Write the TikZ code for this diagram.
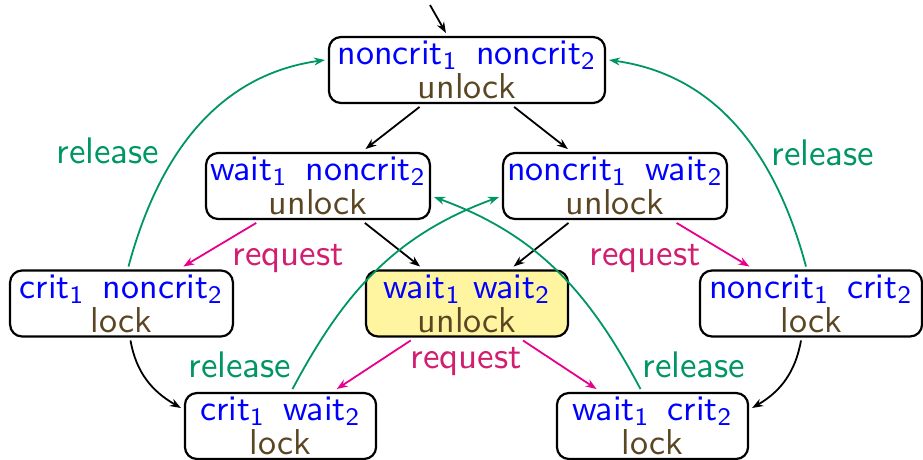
\documentclass[tikz,border=0pt]{standalone}
\usetikzlibrary{arrows.meta}
\definecolor{cblue}{RGB}{0,0,255}
\definecolor{cbrown}{RGB}{90,70,35}
\definecolor{cgreen}{RGB}{0,150,100}
\definecolor{cpink}{RGB}{230,0,140}
\definecolor{cpinktext}{RGB}{210,30,110}
\definecolor{cyellow}{RGB}{255,245,160}
\newcommand{\sub}[1]{\textsubscript{#1}}
\newcommand{\gapw}{\hspace{0.5em}}
\newcommand{\st}[2]{\textcolor{cblue}{#1}\\\textcolor{cbrown}{#2}}
\begin{document}
\begin{tikzpicture}[x=1pt,y=1pt,
  stbox/.style={draw=black, line width=2.2pt, rounded corners=12pt, inner sep=0.5pt,
    scale=3.6, align=center, font=\fontsize{10}{9.44}\selectfont\sffamily, minimum height=18.33pt},
  tr/.style={line width=1.8pt, -{Stealth[length=11pt,width=8pt]}},
  req/.style={tr, cpink},
  rel/.style={tr, cgreen},
  lab/.style={scale=3.7, font=\fontsize{10}{12}\selectfont\sffamily, inner sep=0pt},
]
\useasboundingbox (0,0) rectangle (923,460);

\node[stbox, minimum width=76.7pt] (top) at (467,390) {\st{noncrit\sub{1}\gapw noncrit\sub{2}}{unlock}};
\node[stbox, minimum width=62.2pt] (wn) at (318,274) {\st{wait\sub{1}\gapw noncrit\sub{2}}{unlock}};
\node[stbox, minimum width=62.2pt] (nw) at (615,274) {\st{noncrit\sub{1}\gapw wait\sub{2}}{unlock}};
\node[stbox, minimum width=61.9pt] (cn) at (121.5,156.5) {\st{crit\sub{1}\gapw noncrit\sub{2}}{lock}};
\node[stbox, minimum width=56.1pt, fill=cyellow] (ww) at (467,156.5) {\st{wait\sub{1} wait\sub{2}}{unlock}};
\node[stbox, minimum width=61.7pt] (nc) at (811,156.5) {\st{noncrit\sub{1}\gapw crit\sub{2}}{lock}};
\node[stbox, minimum width=53.1pt] (cw) at (280.5,34) {\st{crit\sub{1}\gapw wait\sub{2}}{lock}};
\node[stbox, minimum width=53.1pt] (wc) at (652.5,34) {\st{wait\sub{1}\gapw crit\sub{2}}{lock}};

\coordinate (init) at (430,455);
\draw[tr] (init) -- (top);
\draw[tr] (top) -- (wn);
\draw[tr] (top) -- (nw);
\draw[tr] (wn) -- (ww);
\draw[tr] (nw) -- (ww);
\draw[tr] ([xshift=9pt]cn.south) to[out=-80,in=150] ([yshift=18pt]cw.west);
\draw[tr] ([xshift=-10pt]nc.south) to[out=-100,in=30] ([yshift=18pt]wc.east);

\draw[req] (wn) -- (cn);
\draw[req] (nw) -- (nc);
\draw[req] (ww) -- (cw);
\draw[req] (ww) -- (wc);

\draw[rel] ([xshift=7pt]cn.north) to[out=75,in=188] ([yshift=10pt]top.west);
\draw[rel] ([xshift=-5pt]nc.north) to[out=105,in=-8] ([yshift=10pt]top.east);
\draw[rel] ([xshift=12pt]cw.north) to[out=62,in=200] ([yshift=-11pt]nw.west);
\draw[rel] ([xshift=-12pt]wc.north) to[out=118,in=-20] ([yshift=-11pt]wn.east);

\node[lab, text=cgreen] (relL) at (108,309) {release};
\node[lab, text=cgreen] (relR) at (823,307) {release};
\node[lab, text=cpinktext] (reqL) at (288,201) {request};
\node[lab, text=cpinktext] (reqR) at (645,201) {request};
\node[lab, text=cpinktext] (reqB) at (466,98) {request};
\node[lab, text=cgreen] (relBL) at (240,95) {release};
\node[lab, text=cgreen] (relBR) at (694,95) {release};
\end{tikzpicture}
\end{document}
